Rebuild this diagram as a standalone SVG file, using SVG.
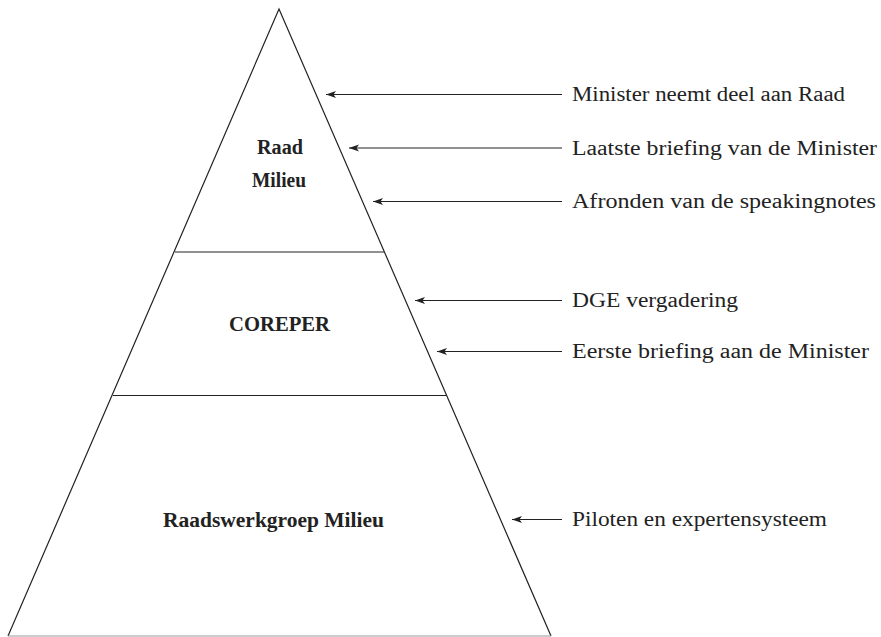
<svg xmlns="http://www.w3.org/2000/svg" width="881" height="637" viewBox="0 0 881 637">
<style>
.edge{stroke:#222;stroke-width:1.2;fill:none}
.conn{stroke:#222;stroke-width:1;fill:none;marker-end:url(#ah)}
.lbl{font-family:"Liberation Serif","DejaVu Serif",serif;font-size:20px;fill:#222}
.node{font-family:"Liberation Serif","DejaVu Serif",serif;font-size:20px;font-weight:bold;fill:#222;text-anchor:middle}
</style>
<defs>
<marker id="ah" markerWidth="12" markerHeight="8" refX="10" refY="4" orient="auto" markerUnits="userSpaceOnUse">
<path d="M10,4 L0,0.6 L2.5,4 L0,7.4 Z" fill="#222"/>
</marker>
</defs>
<rect width="881" height="637" fill="#fff"/>
<g id="pyramid">
<path class="edge" d="M8,636 L279,9 L551,636"/>
<line x1="8" y1="636" x2="551" y2="636" stroke="#999" stroke-width="1"/>
</g>
<g id="raad-milieu">
<line class="edge" x1="175" y1="252" x2="384" y2="252"/>
<text class="node" x="280" y="154" textLength="46" lengthAdjust="spacingAndGlyphs">Raad</text>
<text class="node" x="279" y="187" textLength="54" lengthAdjust="spacingAndGlyphs">Milieu</text>
</g>
<g id="coreper">
<line class="edge" x1="113" y1="395.5" x2="446" y2="395.5"/>
<text class="node" x="279.5" y="331" textLength="101" lengthAdjust="spacingAndGlyphs">COREPER</text>
</g>
<g id="raadswerkgroep">
<text class="node" x="273.5" y="527" textLength="221" lengthAdjust="spacingAndGlyphs">Raadswerkgroep Milieu</text>
</g>
<g id="connectors">
<path class="conn" d="M562,94.5 H326"/>
<path class="conn" d="M562,148 H349"/>
<path class="conn" d="M562,201.5 H373"/>
<path class="conn" d="M562,300.5 H415"/>
<path class="conn" d="M562,351.5 H437"/>
<path class="conn" d="M562,519.5 H512"/>
</g>
<g id="labels">
<text class="lbl" x="572" y="101" textLength="273" lengthAdjust="spacingAndGlyphs">Minister neemt deel aan Raad</text>
<text class="lbl" x="572" y="154.5" textLength="305" lengthAdjust="spacingAndGlyphs">Laatste briefing van de Minister</text>
<text class="lbl" x="572" y="208" textLength="304" lengthAdjust="spacingAndGlyphs">Afronden van de speakingnotes</text>
<text class="lbl" x="572" y="307" textLength="166" lengthAdjust="spacingAndGlyphs">DGE vergadering</text>
<text class="lbl" x="572" y="358" textLength="297" lengthAdjust="spacingAndGlyphs">Eerste briefing aan de Minister</text>
<text class="lbl" x="572" y="526" textLength="255" lengthAdjust="spacingAndGlyphs">Piloten en expertensysteem</text>
</g>
</svg>
